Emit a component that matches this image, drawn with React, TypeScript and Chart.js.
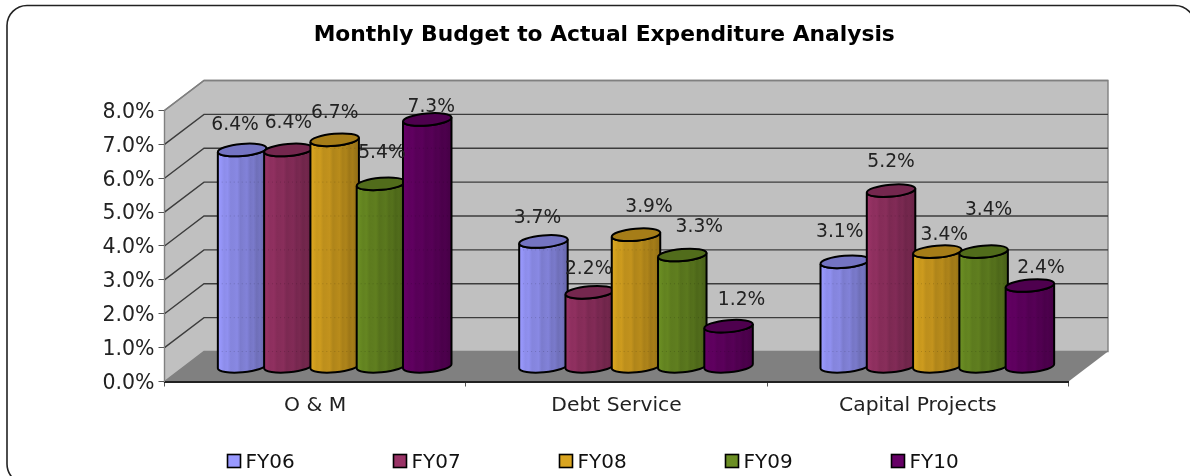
import React, { useEffect, useRef } from "react";
import { Chart, registerables } from "chart.js";

Chart.register(...registerables);

const categories = ["O & M", "Debt Service", "Capital Projects"];
const seriesNames = ["FY06", "FY07", "FY08", "FY09", "FY10"];
const fy06 = [6.4, 3.7, 3.1];
const fy07 = [6.4, 2.2, 5.2];
const fy08 = [6.7, 3.9, 3.4];
const fy09 = [5.4, 3.3, 3.4];
const fy10 = [7.3, 1.2, 2.4];
const seriesValues = [fy06, fy07, fy08, fy09, fy10];
const seriesColors = ["#9999FF", "#993366", "#DAA520", "#6B8E23", "#660066"];
const chartTitle = "Monthly Budget to Actual Expenditure Analysis";

// Hand placement of the value labels, relative to the top of each cylinder.
const labelNudgeX = [
  [-7, -6, -5],
  [0, -1, 0],
  [0, 13, 7],
  [1, 17, 5],
  [4, 13, 11],
];
const labelNudgeY = [
  [-24.5, -23.5, -30],
  [-26.5, -23.5, -28.5],
  [-26.5, -28, -16.5],
  [-30.5, -27.5, -41.5],
  [-12.5, -25.5, -17.5],
];

const FONT = '"DejaVu Sans", sans-serif';
const WALL_DX = 39.5; // depth of the box, horizontally
const WALL_DY = -30; // depth of the box, vertically
const BAR_DX = 19.5; // cylinders stand halfway into the box
const BAR_DY = -14.7;
const TILT = -5 * (Math.PI / 180);
const CAP_RY = 6;

function shade(hex: string, k: number): string {
  const n = parseInt(hex.slice(1), 16);
  const ch = (v: number) => Math.max(0, Math.min(255, Math.round(v * k)));
  return `rgb(${ch((n >> 16) & 255)},${ch((n >> 8) & 255)},${ch(n & 255)})`;
}

// Left-to-right shading of a cylinder's side, with the faint vertical banding.
const bandPattern = [0, 0.02, 0, 0.05, 0, 0.03, 0.07, 0, 0.04, 0.08, 0.02, 0.06, 0, 0.05, 0.01, 0];

function sideGradient(ctx: CanvasRenderingContext2D, x0: number, x1: number, color: string) {
  const g = ctx.createLinearGradient(x0, 0, x1, 0);
  bandPattern.forEach((b, i) => {
    const t = i / (bandPattern.length - 1);
    g.addColorStop(t, shade(color, 1.02 - 0.34 * Math.pow(t, 0.6) + b));
  });
  return g;
}

function drawCylinder(
  ctx: CanvasRenderingContext2D,
  cx: number,
  topY: number,
  baseY: number,
  rx: number,
  color: string,
  gridYs: number[],
) {
  const body = new Path2D();
  body.ellipse(cx, baseY, rx, CAP_RY, TILT, 0, Math.PI, false);
  body.ellipse(cx, topY, rx, CAP_RY, TILT, Math.PI, 0, true);
  body.closePath();

  ctx.fillStyle = sideGradient(ctx, cx - rx, cx + rx, color);
  ctx.fill(body);

  // Faint dotted trace of the gridlines across the side.
  ctx.save();
  ctx.clip(body);
  ctx.strokeStyle = "rgba(0,0,0,0.16)";
  ctx.lineWidth = 1;
  ctx.setLineDash([1, 3]);
  gridYs.forEach((y) => {
    ctx.beginPath();
    ctx.moveTo(cx - rx, y);
    ctx.lineTo(cx + rx, y);
    ctx.stroke();
  });
  ctx.restore();

  ctx.strokeStyle = "#000";
  ctx.lineWidth = 2;
  ctx.stroke(body);

  const cap = new Path2D();
  cap.ellipse(cx, topY, rx, CAP_RY, TILT, 0, Math.PI * 2);
  ctx.fillStyle = shade(color, 0.76);
  ctx.fill(cap);
  ctx.stroke(cap);
}

const cylinderPlugin = {
  id: "cylinderPlugin",
  afterLayout(chart: any) {
    // The title centres on the panel rather than on the plot.
    if (chart.titleBlock) chart.titleBlock.left += 140;
  },
  beforeDraw(chart: any) {
    const { ctx, width, height, chartArea, scales } = chart;
    const y = scales.y;
    const { left, right, top, bottom } = chartArea;

    ctx.save();
    ctx.fillStyle = "#fff";
    ctx.fillRect(0, 0, width, height);
    ctx.beginPath();
    ctx.roundRect(7, 5.5, width + 5 - 7, height + 8 - 5.5, 20);
    ctx.strokeStyle = "#222";
    ctx.lineWidth = 1.6;
    ctx.stroke();

    // Left wall, back wall and floor of the box.
    ctx.strokeStyle = "#808080";
    ctx.lineWidth = 1.4;
    ctx.fillStyle = "#C0C0C0";
    ctx.beginPath();
    ctx.moveTo(left, bottom);
    ctx.lineTo(left, top);
    ctx.lineTo(left + WALL_DX, top + WALL_DY);
    ctx.lineTo(right + WALL_DX, top + WALL_DY);
    ctx.lineTo(right + WALL_DX, bottom + WALL_DY);
    ctx.lineTo(left + WALL_DX, bottom + WALL_DY);
    ctx.closePath();
    ctx.fill();
    ctx.stroke();

    ctx.fillStyle = "#808080";
    ctx.beginPath();
    ctx.moveTo(left, bottom);
    ctx.lineTo(left + WALL_DX, bottom + WALL_DY);
    ctx.lineTo(right + WALL_DX, bottom + WALL_DY);
    ctx.lineTo(right, bottom);
    ctx.closePath();
    ctx.fill();

    // Gridlines follow the side wall and then run along the back wall.
    y.ticks.forEach((t: any) => {
      const py = y.getPixelForValue(t.value);
      ctx.strokeStyle = t.value === y.max ? "#808080" : "#3c3c3c";
      if (t.value === y.min) return;
      ctx.beginPath();
      ctx.moveTo(left, py);
      ctx.lineTo(left + WALL_DX, py + WALL_DY);
      ctx.lineTo(right + WALL_DX, py + WALL_DY);
      ctx.stroke();
    });
    ctx.restore();
  },
  beforeDatasetDraw() {
    // The flat bars are replaced by cylinders below.
    return false;
  },
  afterDatasetsDraw(chart: any) {
    const { ctx, scales } = chart;
    const y = scales.y;
    const gridYs = y.ticks.map((t: any) => y.getPixelForValue(t.value) + WALL_DY);
    ctx.save();
    chart.data.datasets.forEach((ds: any, i: number) => {
      chart.getDatasetMeta(i).data.forEach((el: any) => {
        const rx = el.width / 2 + 1.2;
        const spanned = gridYs.filter((g: number) => g > el.y + BAR_DY && g < el.base + BAR_DY);
        drawCylinder(ctx, el.x + BAR_DX, el.y + BAR_DY, el.base + BAR_DY, rx, ds.backgroundColor, spanned);
      });
    });

    ctx.fillStyle = "#222";
    ctx.font = `18.7px ${FONT}`;
    ctx.textAlign = "center";
    ctx.textBaseline = "middle";
    chart.data.datasets.forEach((ds: any, i: number) => {
      chart.getDatasetMeta(i).data.forEach((el: any, j: number) => {
        ctx.fillText(
          `${ds.data[j].toFixed(1)}%`,
          el.x + BAR_DX + labelNudgeX[i][j],
          el.y + BAR_DY + labelNudgeY[i][j],
        );
      });
    });

    // Legend row along the foot of the panel.
    const pitch = 166;
    const legendY = 461;
    const startX = 227.5;
    ctx.textAlign = "left";
    ctx.font = `20px ${FONT}`;
    chart.data.datasets.forEach((ds: any, i: number) => {
      const x = startX + pitch * i;
      ctx.fillStyle = ds.backgroundColor;
      ctx.fillRect(x, legendY - 6.5, 13, 13);
      ctx.strokeStyle = "#000";
      ctx.lineWidth = 1.6;
      ctx.strokeRect(x, legendY - 6.5, 13, 13);
      ctx.fillStyle = "#111";
      ctx.fillText(ds.label, x + 18, legendY + 1.5);
    });
    ctx.restore();
  },
};

export default function App() {
  const ref = useRef<HTMLCanvasElement>(null);

  useEffect(() => {
    const chart = new Chart(ref.current as HTMLCanvasElement, {
      type: "bar",
      plugins: [cylinderPlugin],
      data: {
        labels: categories,
        datasets: seriesNames.map((name, i) => ({
          label: name,
          data: seriesValues[i],
          backgroundColor: seriesColors[i],
          barPercentage: 1,
          categoryPercentage: 0.768,
        })),
      },
      options: {
        responsive: false,
        animation: false,
        layout: { padding: { left: 0, right: 121.5, top: 0, bottom: 0 } },
        plugins: {
          legend: { display: false },
          tooltip: { enabled: false },
          title: {
            display: true,
            text: chartTitle,
            color: "#000",
            font: { family: FONT, size: 21.8, weight: "bold" },
            padding: { top: 22, bottom: 62.3 },
          },
        },
        scales: {
          x: {
            afterFit(scale: any) {
              scale.height = 94.5;
            },
            border: { display: true, color: "#222", width: 2 },
            grid: { display: true, drawOnChartArea: false, drawTicks: true, tickLength: 5, color: "#555" },
            ticks: { color: "#222", padding: 7, font: { family: FONT, size: 20.3 } },
          },
          y: {
            min: 0,
            max: 8,
            afterFit(scale: any) {
              scale.width = 164.5;
            },
            border: { display: true, color: "#808080", width: 1 },
            grid: { display: true, drawOnChartArea: false, drawTicks: true, tickLength: 6, color: "#555" },
            ticks: {
              stepSize: 1,
              color: "#222",
              padding: 4,
              labelOffset: 2,
              font: { family: FONT, size: 20.5 },
              callback: (v: any) => `${Number(v).toFixed(1)}%`,
            },
          },
        },
      },
    } as any);
    return () => chart.destroy();
  }, []);

  return (
    <canvas
      ref={ref}
      width={1190}
      height={476}
      style={{ position: "fixed", left: 0, top: 0, width: 1190, height: 476 }}
    />
  );
}
